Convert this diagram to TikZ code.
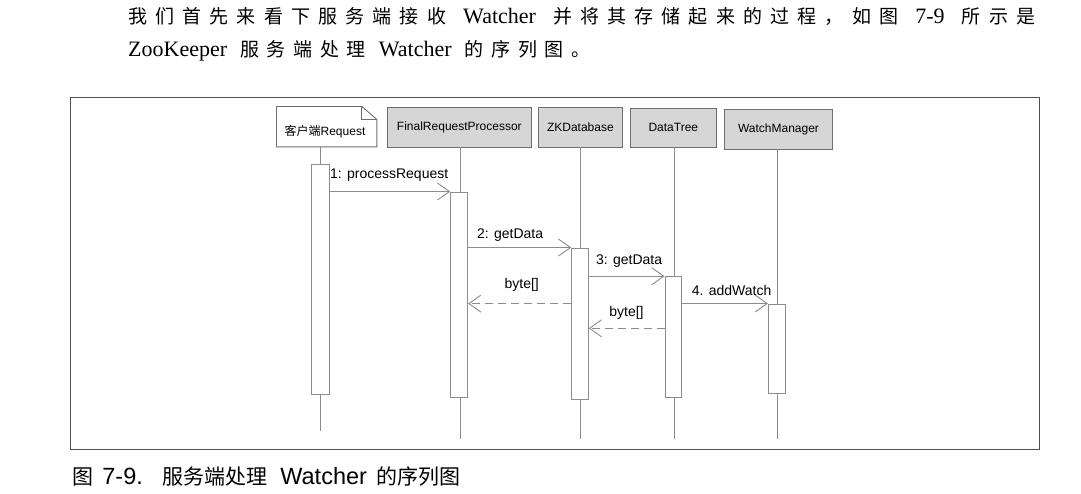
\documentclass[tikz,border=0pt]{standalone}
\usepackage{fontspec}
\usetikzlibrary{arrows.meta}
\setmainfont{Liberation Serif}
\newfontfamily\sansf{Liberation Sans}
\newfontfamily\cjk{Noto Sans CJK SC}
\newfontfamily\cjkA[LetterSpace=43]{Noto Sans CJK SC}
\newfontfamily\cjkB[LetterSpace=40]{Noto Sans CJK SC}
\newcommand\TxLat[1]{{\fontsize{22}{22}\selectfont\rmfamily #1}}
\newcommand\TxCa[1]{{\fontsize{19}{19}\selectfont\cjkA #1}}
\newcommand\TxCb[1]{{\fontsize{19}{19}\selectfont\cjkB #1}}
\definecolor{lineg}{HTML}{8C8C8C}
\definecolor{boxg}{HTML}{D6D6D6}
\definecolor{bordg}{HTML}{6E6E6E}
\definecolor{frameg}{HTML}{505050}
\tikzset{
  framebox/.style={draw=frameg, line width=1.3pt, inner sep=0pt, anchor=north west},
  objbox/.style={draw=bordg, fill=boxg, line width=0.9pt, inner sep=0pt,
    font=\fontsize{12}{12}\selectfont\sansf},
  actbar/.style={draw=lineg, fill=white, line width=0.9pt, inner sep=0pt, minimum width=17pt},
  life/.style={draw=lineg, line width=0.9pt},
  msg/.style={draw=lineg, line width=0.9pt, -{Straight Barb[length=12pt,width=17pt]}},
  ret/.style={msg, dash pattern=on 8pt off 5pt},
  lbl/.style={inner sep=0pt, font=\fontsize{14}{14}\selectfont\sansf}
}
\begin{document}
\begin{tikzpicture}[x=1pt,y=-1pt]
\useasboundingbox (0,0) rectangle (1081,493);
\fill[white] (0,0) rectangle (1081,493);

% body text
\node[anchor=base west, inner sep=0pt] (line1) at (128,23)
  {\makebox[907pt][s]{\TxCa{我们首先来看下服务端接收}\hfill\TxLat{Watcher}\hfill\TxCa{并将其存储起来的过程，如图}\hfill\TxLat{7-9}\hfill\TxCa{所示是}}};
\node[anchor=base west, inner sep=0pt] (line2) at (128,56)
  {\makebox[462pt][s]{\TxLat{ZooKeeper}\hfill\TxCb{服务端处理}\hfill\TxLat{Watcher}\hfill\TxCb{的序列图。}}};

% frame
\node[framebox, minimum width=968.5pt, minimum height=352pt] (frame) at (70,97) {};

% objects
\node[inner sep=0pt, minimum width=100pt, minimum height=40pt] (client) at (326.7,126.7) {};
\draw[draw=bordg, fill=white, line width=0.9pt]
  (client.north west) -- ([xshift=-15pt]client.north east) -- ([yshift=-13pt]client.north east)
  -- (client.south east) -- (client.south west) -- cycle;
\draw[draw=bordg, line width=0.9pt] ([xshift=-15pt]client.north east) -- ([xshift=-15pt,yshift=-13pt]client.north east) -- ([yshift=-13pt]client.north east);
\node[inner sep=0pt, font=\fontsize{12}{12}\selectfont\sansf] (clientlbl) at (325,131.5) {{\cjk 客户端}Request};

\node[objbox, minimum width=143.3pt, minimum height=39.3pt] (frp) at (459.35,127.35) {FinalRequestProcessor};
\node[objbox, minimum width=84.7pt, minimum height=39.3pt] (zk) at (580.35,127.35) {ZKDatabase};
\node[objbox, minimum width=85.3pt, minimum height=39pt] (dt) at (673.35,127.5) {DataTree};
\node[objbox, minimum width=108.4pt, minimum height=40pt] (wm) at (778.5,129) {WatchManager};

% lifelines
\coordinate (cTop) at (320.7,146.7);
\coordinate (cEnd) at (320.7,431);
\coordinate (fEnd) at (460,439);
\coordinate (zEnd) at (580,439);
\coordinate (dEnd) at (674,439);
\coordinate (wEnd) at (777.7,439);
\draw[life] (cTop) -- (cEnd);
\draw[life] (frp.south -| fEnd) -- (fEnd);
\draw[life] (zk.south -| zEnd) -- (zEnd);
\draw[life] (dt.south -| dEnd) -- (dEnd);
\draw[life] (wm.south -| wEnd) -- (wEnd);

% activation bars
\node[actbar, minimum width=17.6pt, minimum height=230pt] (cb) at (320.5,279) {};
\node[actbar, minimum height=205pt] (fb) at (459.2,294.5) {};
\node[actbar, minimum width=16.6pt, minimum height=151pt] (zb) at (580,323.5) {};
\node[actbar, minimum width=16.7pt, minimum height=120.3pt] (db) at (673.3,336.85) {};
\node[actbar, minimum width=16.7pt, minimum height=89.5pt] (wb) at (776.7,348.75) {};

% messages
\draw[msg] (cb.east |- fb.north west) -- (fb.north west);
\draw[msg] (fb.east |- zb.north west) -- (zb.north west);
\draw[msg] (zb.east |- db.north west) -- (db.north west);
\draw[ret] (zb.west |- wb.north west) -- (fb.east |- wb.north west);
\draw[msg] (db.east |- wb.north west) -- (wb.north west);
\coordinate (r2y) at (0,328.3);
\draw[ret] (db.west |- r2y) -- (zb.east |- r2y);

% labels
\node[lbl, anchor=west] (m1) at (330,175) {1: processRequest};
\node[lbl, anchor=west] (m2) at (477,235) {2: getData};
\node[lbl, anchor=west] (m3) at (596,260.7) {3: getData};
\node[lbl] (r1) at (521.7,285) {byte[]};
\node[lbl, anchor=west] (m4) at (691.7,290) {4. addWatch};
\node[lbl] (r2) at (626.5,313.3) {byte[]};

% caption
\node[anchor=base west, inner sep=0pt] (caption) at (72,484)
  {\makebox[388pt][s]{{\fontsize{21}{21}\selectfont\cjk 图}\hspace{6pt plus 1fil}{\fontsize{23.5}{23.5}\selectfont\sansf 7-9.}\hspace{16pt plus 1fil}{\fontsize{21}{21}\selectfont\cjk 服务端处理}\hspace{10pt plus 1fil}{\fontsize{23.5}{23.5}\selectfont\sansf Watcher}\hspace{6pt plus 1fil}{\fontsize{21}{21}\selectfont\cjk 的序列图}}};
\end{tikzpicture}
\end{document}
